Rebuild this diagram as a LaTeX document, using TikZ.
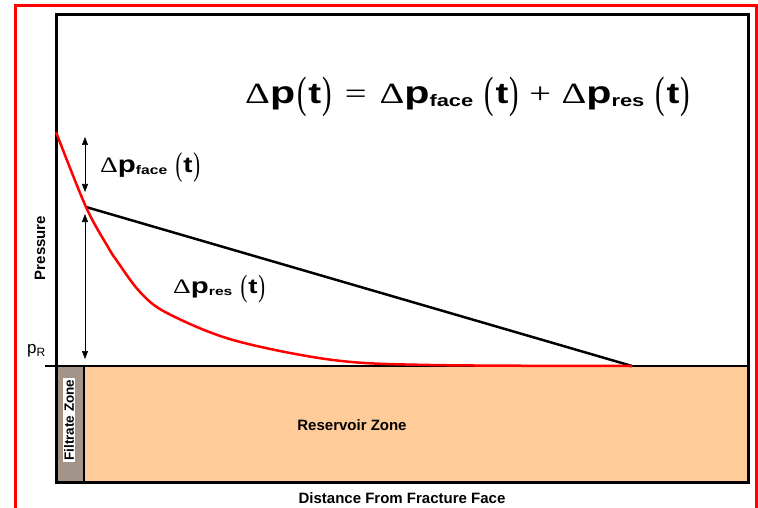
\documentclass[tikz,border=0pt]{standalone}
\usepackage{fontspec}
\usepackage{graphicx}
\setmainfont{Liberation Sans}
\newfontfamily\symfont{Liberation Serif}
\usetikzlibrary{arrows.meta,positioning}
\definecolor{filtrate}{HTML}{A39489}
\definecolor{reservoir}{HTML}{FFCC99}

% pieces of the pressure-drop terms (30pt base, resized in the nodes)
\newcommand{\dd}{{\symfont Δ}}
\newcommand{\pp}{{\bfseries\fontsize{32}{32}\selectfont p}}
\newcommand{\subtxt}[1]{\raisebox{-3pt}{\bfseries\fontsize{17}{17}\selectfont #1}}
\newcommand{\lpar}{\raisebox{-4pt}{\scalebox{1}[2.05]{\symfont\fontsize{22}{22}\selectfont (}}}
\newcommand{\rpar}{\raisebox{-4pt}{\scalebox{1}[2.05]{\symfont\fontsize{22}{22}\selectfont )}}}
\newcommand{\pterm}[1]{\dd\pp\subtxt{#1}}
\newcommand{\targ}[1]{\hspace{#1}\lpar\hspace{1pt}{\bfseries t}\hspace{1pt}\rpar}

\begin{document}
\begin{tikzpicture}[
  x=1pt, y=-1pt,
  every node/.style={font=\bfseries\fontsize{15}{15}\selectfont, inner sep=0pt},
  eqn/.style={anchor=north west, font=\fontsize{30}{30}\selectfont},
  frame/.style={line width=3pt},
  zone/.style={draw=black, line width=1.5pt},
  curve/.style={red, line width=2.5pt, line join=round},
  arr/.style={{Triangle[length=8pt,width=6pt]}-{Triangle[length=8pt,width=6pt]}, line width=0.6pt}
]
  \useasboundingbox (0,0) rectangle (758,508);
  \clip (0,0) rectangle (758,508);

  % outer red border, cut off at the bottom
  \draw[red, line width=3pt] (15,6) rectangle (756,540);

  % zones below p_R
  \filldraw[zone, fill=filtrate] (56,366) rectangle (84,482);
  \filldraw[zone, fill=reservoir] (84,366) rectangle (748,482);

  % plot frame and p_R level
  \draw[frame] (56,15) rectangle (748,482);
  \draw[line width=2pt] (45,366) -- (748,366);

  % key points
  \coordinate (face) at (56,132);
  \coordinate (kink) at (86,207);
  \coordinate (front) at (632,366);
  \coordinate (faceTop) at (85,137);
  \coordinate (faceBot) at (85,192);
  \coordinate (resTop) at (85,214);
  \coordinate (resBot) at (85,359);

  % linear profile and actual profile
  \draw[line width=2.5pt] (kink) -- (front);
  \draw[curve] plot[smooth, tension=0.55] coordinates {(face) (kink) (108,247) (117,261)
    (140,292) (167,313) (233,340) (333,360) (430,365) (front)};

  % drop arrows
  \draw[arr] (faceTop) -- (faceBot);
  \draw[arr] (resTop) -- (resBot);

  % labels
  \node[eqn] (eq) at (245,77)
    {\resizebox*{445pt}{40pt}{\pterm{}\targ{2pt}\hspace{10pt}{\symfont =}\hspace{10pt}%
      \pterm{face}\targ{9pt}\hspace{8pt}{\symfont +}\hspace{8pt}\pterm{res}\targ{9pt}}};
  \node[eqn] (dpface) at (100,152)
    {\resizebox*{100pt}{30pt}{\pterm{face}\targ{9pt}}};
  \node[eqn] (dpres) at (173,275)
    {\resizebox*{92pt}{28pt}{\pterm{res}\targ{9pt}}};

  \node[rotate=90] (pressure) at (40,248) {Pressure};
  \node[anchor=base west, font=\fontsize{17}{17}\selectfont] (pR) at (27,353)
    {p\raisebox{-3pt}{\fontsize{12}{12}\selectfont R}};
  \node[rotate=90, fill=white, inner sep=1pt, font=\bfseries\fontsize{13.5}{13.5}\selectfont]
    (filt) at (69,420) {Filtrate Zone};
  \node (resv) at (352,425) {Reservoir Zone};
  \node (dist) at (402,498) {Distance From Fracture Face};
\end{tikzpicture}
\end{document}
